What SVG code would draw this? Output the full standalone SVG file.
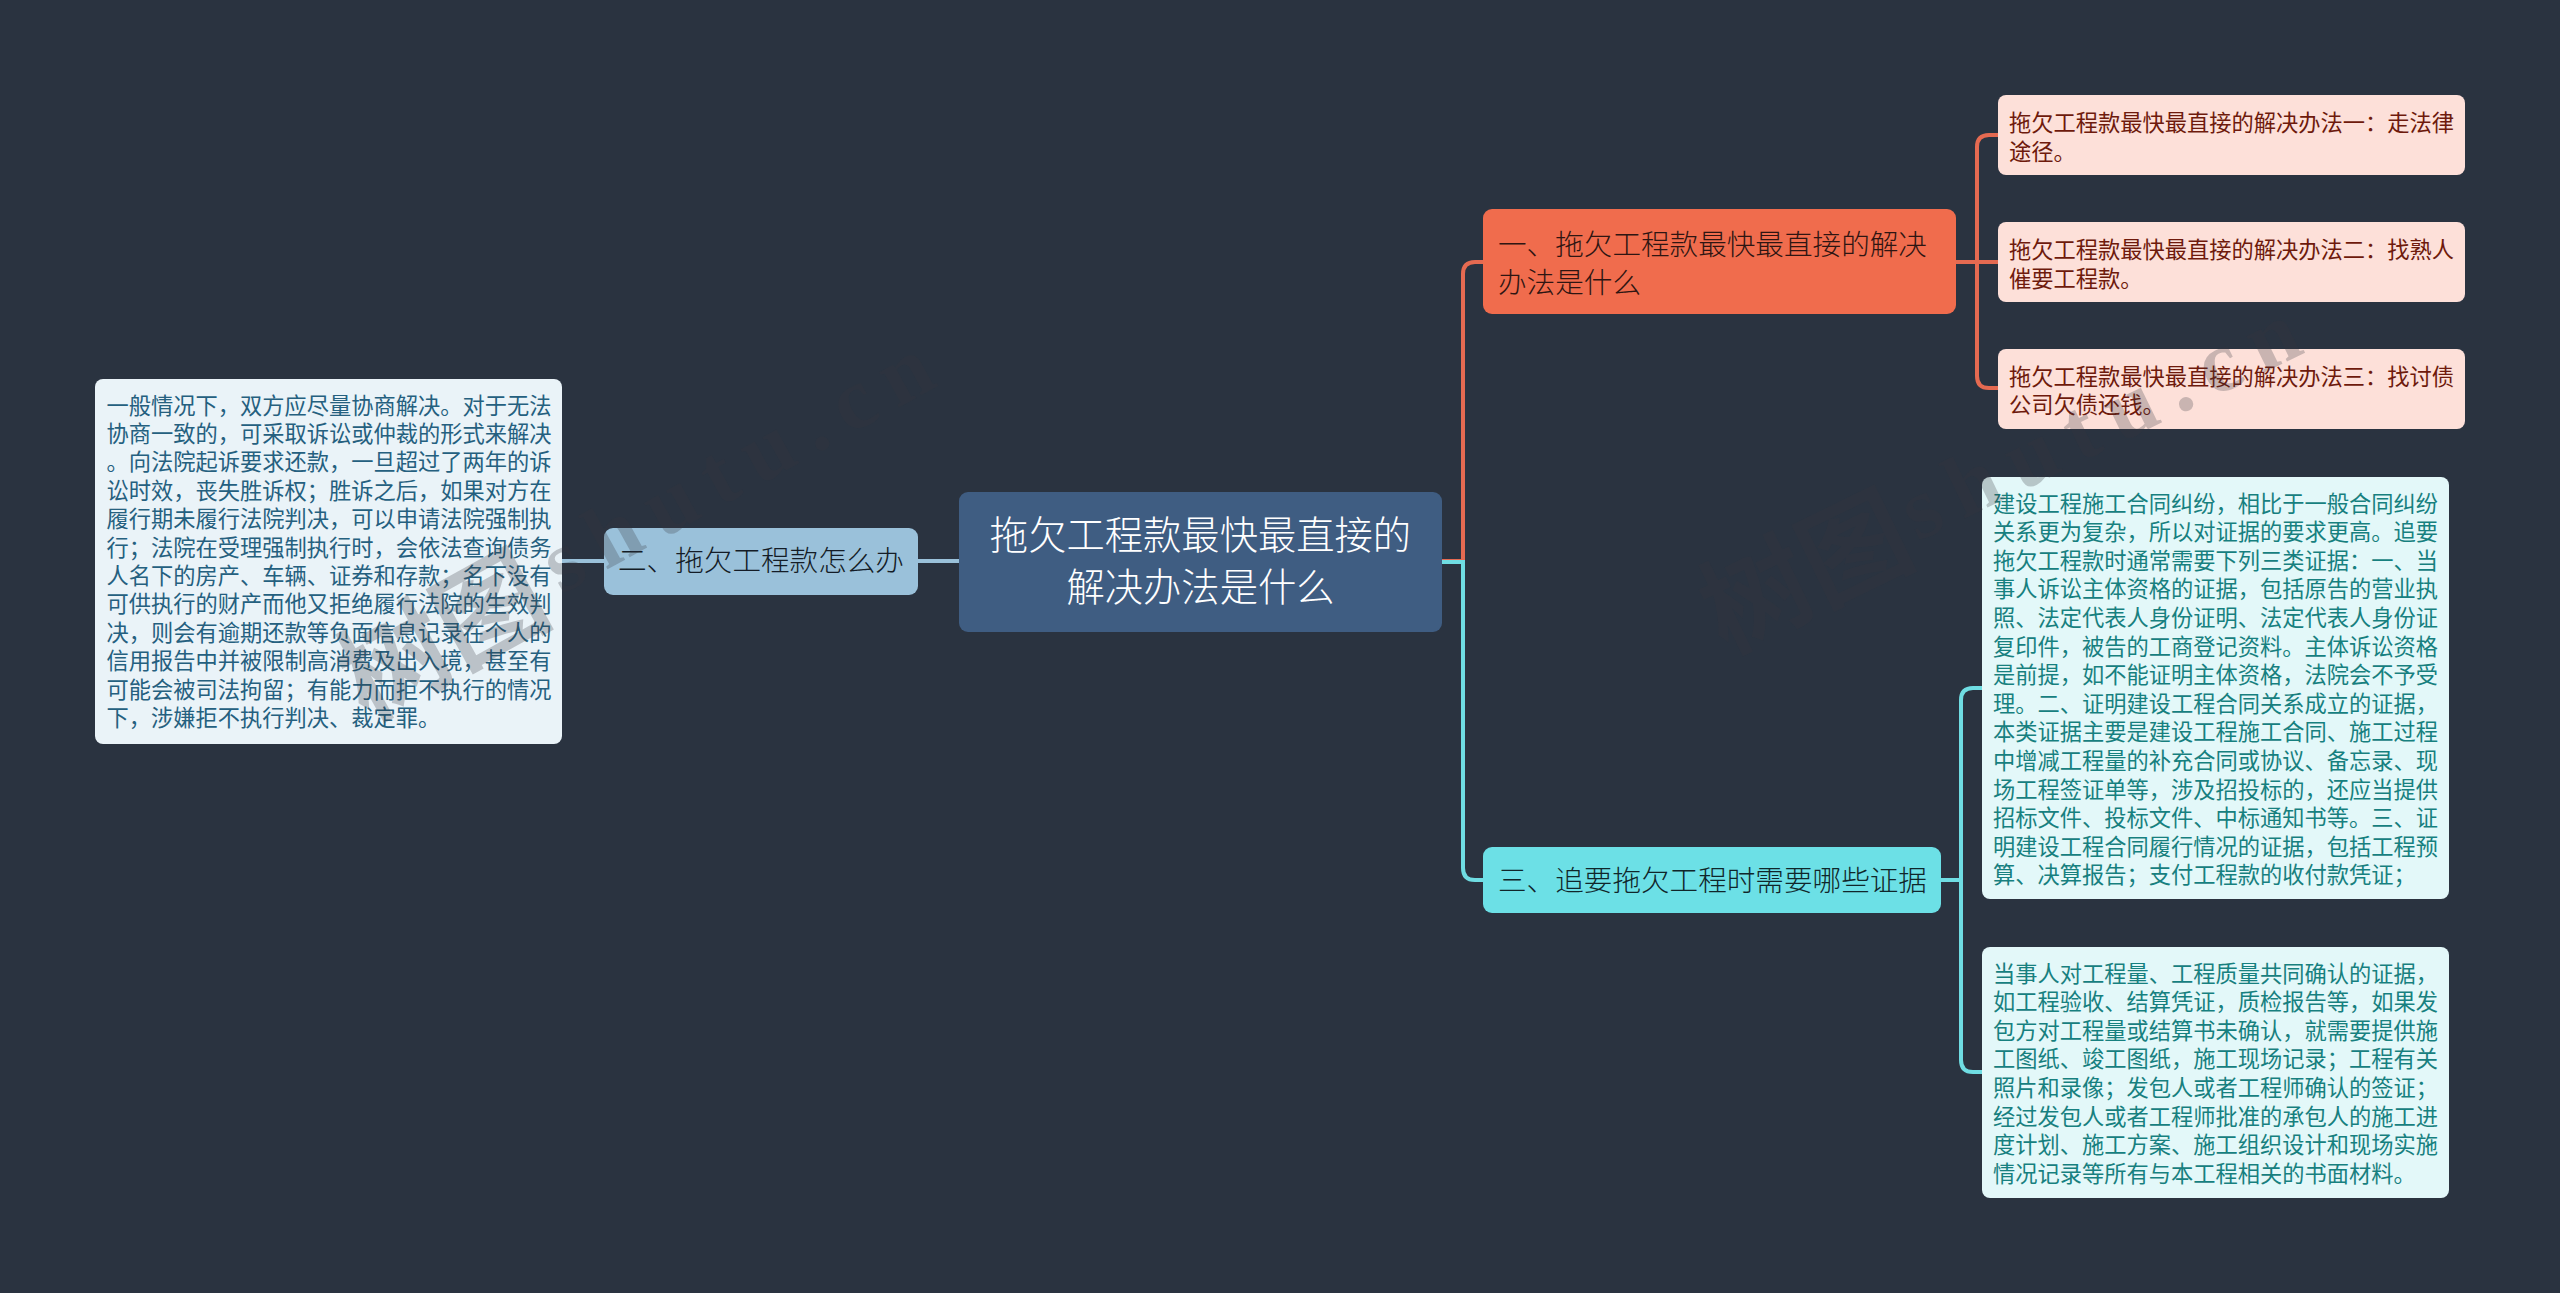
<svg xmlns="http://www.w3.org/2000/svg" width="2560" height="1293" viewBox="0 0 2560 1293">
<style>
text{font-family:"Noto Sans CJK SC","Noto Sans",sans-serif;dominant-baseline:central}
.c{fill:none;stroke-width:4}
.o{stroke:#e56a51}.b{stroke:#9ac1da}.t{stroke:#6fdde3}
.s{font-size:22.25px}.m{font-size:28.6px;font-weight:300}.r{font-size:38.3px;font-weight:300;fill:#fff;text-anchor:middle}
.ls{fill:#fde0d9}.lc{fill:#e3f8f9}.lb{fill:#eaf3f8}
.ts{fill:#6e1a0c}.tc{fill:#17807f}.tb{fill:#25607f}
.wm{font-size:108px;font-weight:700;fill:#36383c;fill-opacity:.26}
.wl{font-family:"Liberation Serif",serif;font-size:88px;letter-spacing:16px}
</style>
<rect width="2560" height="1293" fill="#2a3340"/>
<g id="connectors">
<path class="c b" d="M959 561H918M604 561H562"/>
<path class="c o" d="M1442 561H1463V274Q1463 262 1475 262H1483"/>
<path class="c t" d="M1442 562H1463V868Q1463 880 1475 880H1483"/>
<path class="c o" d="M1956 262H1998M1998 135H1989Q1977 135 1977 147V376Q1977 388 1989 388H1998"/>
<path class="c t" d="M1940 880H1961M1982 688H1973Q1961 688 1961 700V1060Q1961 1072 1973 1072H1982"/>
</g>
<g id="root"><rect x="959" y="492" width="483" height="140" rx="9" fill="#3f5d82"/>
<text class="r" x="1200.5" y="532">拖欠工程款最快最直接的</text>
<text class="r" x="1200.5" y="584">解决办法是什么</text></g>
<g id="n1"><rect x="1483" y="209" width="473" height="105" rx="9" fill="#f06c4d"/>
<text class="m" x="1498" y="242" fill="#2e1512">一、拖欠工程款最快最直接的解决</text>
<text class="m" x="1498" y="280" fill="#2e1512">办法是什么</text></g>
<g id="n2"><rect x="604" y="528" width="314" height="67" rx="9" fill="#9ac1da"/>
<text class="m" x="618" y="558" fill="#141c26">二、拖欠工程款怎么办</text></g>
<g id="n3"><rect x="1483" y="847" width="458" height="66" rx="9" fill="#6ce0e6"/>
<text class="m" x="1498" y="878" fill="#10262a">三、追要拖欠工程时需要哪些证据</text></g>
<g id="n1a"><rect class="ls" x="1998" y="95" width="467" height="80" rx="8"/>
<g class="s ts"><text x="2009" y="120.5">拖欠工程款最快最直接的解决办法一：走法律</text><text x="2009" y="149.5">途径。</text></g></g>
<g id="n1b"><rect class="ls" x="1998" y="222" width="467" height="80" rx="8"/>
<g class="s ts"><text x="2009" y="247.5">拖欠工程款最快最直接的解决办法二：找熟人</text><text x="2009" y="276.5">催要工程款。</text></g></g>
<g id="n1c"><rect class="ls" x="1998" y="349" width="467" height="80" rx="8"/>
<g class="s ts"><text x="2009" y="374.5">拖欠工程款最快最直接的解决办法三：找讨债</text><text x="2009" y="402.5">公司欠债还钱。</text></g></g>
<g id="n3a"><rect class="lc" x="1982" y="477" width="467" height="422" rx="8"/>
<g class="s tc">
<text x="1993" y="501.5">建设工程施工合同纠纷，相比于一般合同纠纷</text>
<text x="1993" y="530.1">关系更为复杂，所以对证据的要求更高。追要</text>
<text x="1993" y="558.7">拖欠工程款时通常需要下列三类证据：一、当</text>
<text x="1993" y="587.3">事人诉讼主体资格的证据，包括原告的营业执</text>
<text x="1993" y="615.9">照、法定代表人身份证明、法定代表人身份证</text>
<text x="1993" y="644.5">复印件，被告的工商登记资料。主体诉讼资格</text>
<text x="1993" y="673.1">是前提，如不能证明主体资格，法院会不予受</text>
<text x="1993" y="701.7">理。二、证明建设工程合同关系成立的证据，</text>
<text x="1993" y="730.3">本类证据主要是建设工程施工合同、施工过程</text>
<text x="1993" y="758.9">中增减工程量的补充合同或协议、备忘录、现</text>
<text x="1993" y="787.5">场工程签证单等，涉及招投标的，还应当提供</text>
<text x="1993" y="816.1">招标文件、投标文件、中标通知书等。三、证</text>
<text x="1993" y="844.7">明建设工程合同履行情况的证据，包括工程预</text>
<text x="1993" y="873.3">算、决算报告；支付工程款的收付款凭证；</text>
</g></g>
<g id="n3b"><rect class="lc" x="1982" y="947" width="467" height="251" rx="8"/>
<g class="s tc">
<text x="1993" y="971.5">当事人对工程量、工程质量共同确认的证据，</text>
<text x="1993" y="1000.1">如工程验收、结算凭证，质检报告等，如果发</text>
<text x="1993" y="1028.7">包方对工程量或结算书未确认，就需要提供施</text>
<text x="1993" y="1057.3">工图纸、竣工图纸，施工现场记录；工程有关</text>
<text x="1993" y="1085.9">照片和录像；发包人或者工程师确认的签证；</text>
<text x="1993" y="1114.5">经过发包人或者工程师批准的承包人的施工进</text>
<text x="1993" y="1143.1">度计划、施工方案、施工组织设计和现场实施</text>
<text x="1993" y="1171.7">情况记录等所有与本工程相关的书面材料。</text>
</g></g>
<g id="n2a"><rect class="lb" x="95" y="379" width="467" height="365" rx="8"/>
<g class="s tb">
<text x="106.5" y="403.5">一般情况下，双方应尽量协商解决。对于无法</text>
<text x="106.5" y="431.9">协商一致的，可采取诉讼或仲裁的形式来解决</text>
<text x="106.5" y="460.3">。向法院起诉要求还款，一旦超过了两年的诉</text>
<text x="106.5" y="488.7">讼时效，丧失胜诉权；胜诉之后，如果对方在</text>
<text x="106.5" y="517.1">履行期未履行法院判决，可以申请法院强制执</text>
<text x="106.5" y="545.5">行；法院在受理强制执行时，会依法查询债务</text>
<text x="106.5" y="573.9">人名下的房产、车辆、证券和存款；名下没有</text>
<text x="106.5" y="602.3">可供执行的财产而他又拒绝履行法院的生效判</text>
<text x="106.5" y="630.7">决，则会有逾期还款等负面信息记录在个人的</text>
<text x="106.5" y="659.1">信用报告中并被限制高消费及出入境，甚至有</text>
<text x="106.5" y="687.5">可能会被司法拘留；有能力而拒不执行的情况</text>
<text x="106.5" y="715.9">下，涉嫌拒不执行判决、裁定罪。</text>
</g></g>
<g id="watermark">
<text class="wm" transform="translate(344 681) rotate(-29)">树图<tspan class="wl" dx="16">shutu.cn</tspan></text>
<text class="wm" transform="translate(1705 612) rotate(-26)">树图<tspan class="wl" dx="6">shutu.cn</tspan></text>
</g>
</svg>
